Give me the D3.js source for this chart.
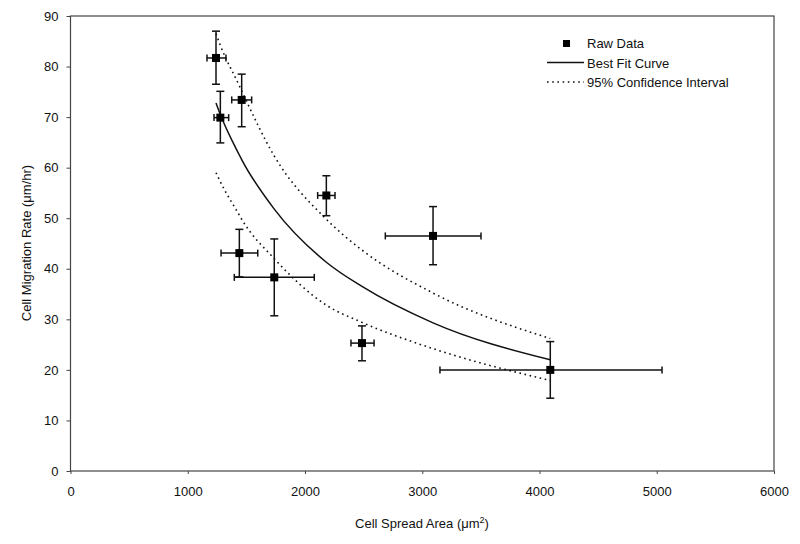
<!DOCTYPE html>
<html><head><meta charset="utf-8">
<script src="https://cdn.jsdelivr.net/npm/d3@7"></script>
<style>body{margin:0;background:#fff;} text{font-family:"Liberation Sans",Arial,sans-serif;fill:#111;}</style>
</head><body><svg id="c" width="800" height="544"></svg>
<script>
// Raw data points
const pointX   = [1241, 1278, 1460, 1440, 1738, 2486, 2182, 3092, 4092];
const pointY   = [81.7, 69.9, 73.4, 43.1, 38.3, 25.3, 54.5, 46.5, 20.0];
const xErrLow  = [1164, 1224, 1375, 1284, 1397, 2392, 2108, 2685, 3151];
const xErrHigh = [1326, 1349, 1545, 1597, 2079, 2589, 2256, 3501, 5045];
const yErrLow  = [76.5, 64.9, 68.1, 38.4, 30.7, 21.8, 50.5, 40.8, 14.4];
const yErrHigh = [87.0, 75.1, 78.5, 47.8, 45.9, 28.7, 58.4, 52.3, 25.6];
// Curves (read at data x positions)
const curveX   = [1241, 1278, 1440, 1460, 1738, 2182, 2486, 3092, 4092];
const fitY     = [72.8, 70.5, 62.5, 61.6, 51.8, 41.3, 36.5, 29.3, 22.0];
const upperY   = [86.5, 84.2, 76.2, 75.2, 62.3, 49.8, 43.7, 35.2, 26.2];
const lowerY   = [59.0, 57.2, 50.6, 49.8, 42.0, 32.8, 29.4, 24.2, 17.9];
const xTicks = [0, 1000, 2000, 3000, 4000, 5000, 6000];
const yTicks = [0, 10, 20, 30, 40, 50, 60, 70, 80, 90];
const legendLabels = ["Raw Data", "Best Fit Curve", "95% Confidence Interval"];

const svg = d3.select("#c");
const L = 70.5, R = 774, T = 16, B = 471;
const x = d3.scaleLinear().domain([0, 6000]).range([L, R]);
const y = d3.scaleLinear().domain([0, 90]).range([B, T]);

// frame
svg.append("rect").attr("x", L).attr("y", T).attr("width", R - L).attr("height", B - T)
  .attr("fill", "none").attr("stroke", "#444").attr("stroke-width", 1.2);

const xAxis = svg.append("g").attr("transform", `translate(0,${B})`)
  .call(d3.axisBottom(x).tickValues(xTicks).tickSize(3).tickPadding(13).tickFormat(d3.format("d")));
const yAxis = svg.append("g").attr("transform", `translate(${L},0)`)
  .call(d3.axisLeft(y).tickValues(yTicks).tickSize(4).tickPadding(8));
[xAxis, yAxis].forEach(a => {
  a.select(".domain").remove();
  a.selectAll(".tick line").attr("stroke", "#444");
  a.selectAll("text").attr("font-size", 13).style("font-family", "Liberation Sans, Arial, sans-serif");
});

// axis titles
svg.append("text").attr("x", 422).attr("y", 528).attr("text-anchor", "middle").attr("font-size", 13)
  .html('Cell Spread Area (μm<tspan dy="-5" font-size="9">2</tspan><tspan dy="5">)</tspan>');
svg.append("text").attr("transform", "translate(31,243) rotate(-90)").attr("text-anchor", "middle")
  .attr("font-size", 13).text("Cell Migration Rate (μm/hr)");

const line = d3.line().x(d => x(d[0])).y(d => y(d[1])).curve(d3.curveMonotoneX);
const ciStyle = s => s.attr("fill", "none").attr("stroke", "#111").attr("stroke-width", 1.6)
  .attr("stroke-dasharray", "1.6,3.6");
svg.append("path").datum(curveX.map((v, i) => [v, upperY[i]])).attr("d", line).call(ciStyle);
svg.append("path").datum(curveX.map((v, i) => [v, lowerY[i]])).attr("d", line).call(ciStyle);
svg.append("path").datum(curveX.map((v, i) => [v, fitY[i]])).attr("d", line)
  .attr("fill", "none").attr("stroke", "#111").attr("stroke-width", 1.5);

// error bars
const g = svg.append("g").attr("stroke", "#111").attr("stroke-width", 1.5);
pointX.forEach((px, i) => {
  const cx = x(px), cy = y(pointY[i]);
  g.append("line").attr("x1", x(xErrLow[i])).attr("x2", x(xErrHigh[i])).attr("y1", cy).attr("y2", cy);
  g.append("line").attr("x1", cx).attr("x2", cx).attr("y1", y(yErrLow[i])).attr("y2", y(yErrHigh[i]));
  [xErrLow[i], xErrHigh[i]].forEach(v => g.append("line").attr("x1", x(v)).attr("x2", x(v)).attr("y1", cy - 3.5).attr("y2", cy + 3.5));
  [yErrLow[i], yErrHigh[i]].forEach(v => g.append("line").attr("y1", y(v)).attr("y2", y(v)).attr("x1", cx - 4).attr("x2", cx + 4));
});
svg.append("g").selectAll("rect").data(pointX).join("rect")
  .attr("x", (d) => x(d) - 4).attr("y", (d, i) => y(pointY[i]) - 4)
  .attr("width", 8).attr("height", 8).attr("fill", "#000");

// legend
const lg = svg.append("g");
lg.append("rect").attr("x", 563).attr("y", 40).attr("width", 7).attr("height", 7).attr("fill", "#000");
lg.append("line").attr("x1", 547).attr("x2", 584).attr("y1", 62.5).attr("y2", 62.5).attr("stroke", "#111").attr("stroke-width", 1.4);
lg.append("line").attr("x1", 547).attr("x2", 584).attr("y1", 82).attr("y2", 82).call(ciStyle).attr("stroke-width", 1.3);
legendLabels.forEach((t, i) => lg.append("text").attr("x", 587).attr("y", 48 + i * 19.5).attr("font-size", 13).text(t));
</script></body></html>
